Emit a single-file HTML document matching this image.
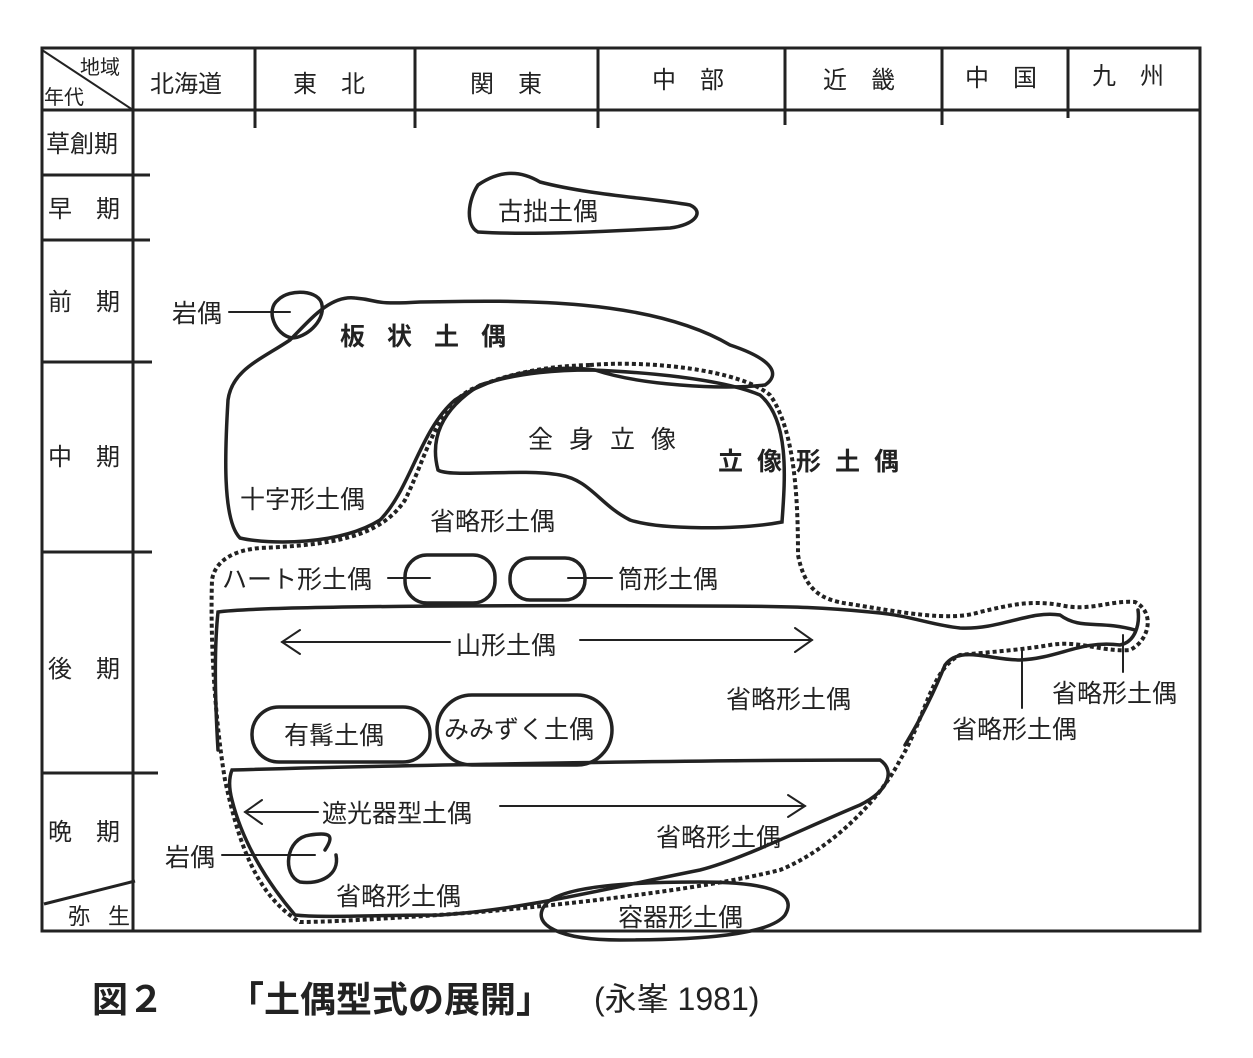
<!DOCTYPE html>
<html><head><meta charset="utf-8"><style>
body{margin:0;background:#fff;width:1253px;height:1053px;overflow:hidden}
svg text{font-family:"Liberation Sans","Noto Sans CJK JP",sans-serif;fill:#222}
</style></head><body>
<svg width="1253" height="1053" viewBox="0 0 1253 1053" xmlns="http://www.w3.org/2000/svg">
<g stroke="#222" stroke-width="3" fill="none">
<rect x="42" y="48" width="1158" height="883"/>
<line x1="42" y1="110" x2="1200" y2="110"/>
<line x1="133" y1="48" x2="133" y2="931"/>
<line x1="42" y1="50" x2="133" y2="110" stroke-width="2"/>
<line x1="255" y1="48" x2="255" y2="128"/>
<line x1="415" y1="48" x2="415" y2="128"/>
<line x1="598" y1="48" x2="598" y2="128"/>
<line x1="785" y1="48" x2="785" y2="125"/>
<line x1="942" y1="48" x2="942" y2="125"/>
<line x1="1068" y1="48" x2="1068" y2="118"/>
<line x1="42" y1="175" x2="150" y2="175"/>
<line x1="42" y1="240" x2="150" y2="240"/>
<line x1="42" y1="362" x2="152" y2="362"/>
<line x1="42" y1="552" x2="152" y2="552"/>
<line x1="42" y1="773" x2="158" y2="773"/>
<line x1="44" y1="904" x2="135" y2="881"/>
</g>
<g font-size="24">
<text x="80" y="74" font-size="20">地域</text>
<text x="44" y="104" font-size="20">年代</text>
<text x="150" y="92">北海道</text>
<text x="293" y="92">東　北</text>
<text x="470" y="92">関　東</text>
<text x="652" y="88">中　部</text>
<text x="823" y="88">近　畿</text>
<text x="965" y="86">中　国</text>
<text x="1092" y="84">九　州</text>
<text x="46" y="152">草創期</text>
<text x="48" y="217">早　期</text>
<text x="48" y="310">前　期</text>
<text x="48" y="465">中　期</text>
<text x="48" y="677">後　期</text>
<text x="48" y="840">晩　期</text>
<text x="68" y="924" font-size="22" letter-spacing="-2">弥　生</text>
</g>
<g stroke="#222" stroke-width="3.5" fill="none" stroke-linecap="round">
<path d="M478,185 C500,170 520,170 540,182 C590,195 650,198 690,205 C705,212 695,225 670,228 C600,232 520,235 478,232 C465,225 468,200 478,185Z"/>
<path d="M290,340 C310,320 330,295 355,298 C380,300 370,305 420,302 C520,300 650,298 730,345 C775,360 780,375 765,385 C720,390 640,385 595,370 C560,365 500,370 455,400 C420,430 410,490 380,520 C340,545 270,545 240,538 C222,520 225,450 228,400 C232,370 260,360 290,340"/>
<path d="M592,370 C640,372 720,378 760,395 C790,420 785,480 782,522 C740,530 660,530 630,520 C600,505 590,480 560,475 C520,468 450,478 438,470 C430,440 440,410 480,385 C520,372 560,370 592,370"/>
<path d="M278,300 C290,288 320,290 322,305 C325,322 305,338 292,338 C275,335 265,310 278,300"/>
<path d="M218,750 C215,700 214,650 218,612 C260,606 500,605 700,606 C800,606 830,608 870,612 C910,615 930,625 960,628 C1000,630 1030,610 1060,615 C1080,630 1100,620 1135,630"/>
<path d="M905,745 C920,720 935,690 945,665 C960,645 990,660 1020,660 C1060,658 1080,640 1120,645 C1135,642 1140,625 1138,610"/>
<path d="M232,770 C400,765 700,760 880,760 C895,770 890,790 860,805 C800,830 740,860 700,870 C600,890 520,910 440,915 C380,915 320,918 295,915 C265,880 242,840 232,800 C228,785 230,775 232,770Z"/>
<path d="M545,905 C560,885 640,882 700,882 C760,882 800,890 785,915 C770,935 700,940 620,940 C560,940 530,925 545,905Z"/>
<rect x="405" y="555" width="90" height="48" rx="22"/>
<rect x="510" y="558" width="75" height="42" rx="20"/>
<rect x="252" y="707" width="178" height="55" rx="27"/>
<rect x="437" y="695" width="175" height="70" rx="35"/>
<path d="M325,850 C335,835 330,832 310,835 C285,838 282,875 300,882 C320,885 340,875 336,855"/>
<line x1="229" y1="312" x2="290" y2="312" stroke-width="2"/>
<line x1="388" y1="578" x2="430" y2="578" stroke-width="2"/>
<line x1="568" y1="578" x2="612" y2="578" stroke-width="2"/>
<line x1="222" y1="855" x2="315" y2="855" stroke-width="2"/>
<line x1="1022" y1="648" x2="1022" y2="708" stroke-width="2"/>
<line x1="1123" y1="635" x2="1123" y2="672" stroke-width="2"/>
<g stroke-width="2">
<line x1="282" y1="642" x2="450" y2="642"/><polyline points="300,630 282,642 300,654"/>
<line x1="580" y1="640" x2="812" y2="640"/><polyline points="795,628 812,640 795,652"/>
<line x1="245" y1="812" x2="318" y2="812"/><polyline points="262,800 245,812 262,824"/>
<line x1="500" y1="806" x2="805" y2="806"/><polyline points="788,795 805,806 788,817"/>
</g>
</g>
<path d="M590,365 C650,360 740,370 770,395 C795,430 798,500 798,555 C805,590 820,600 850,604 C900,612 950,622 980,612 C1010,605 1030,600 1060,605 C1090,612 1110,600 1135,602 C1155,612 1150,640 1130,650 C1100,652 1080,640 1050,645 C1020,650 990,652 960,655 C930,670 925,720 900,760 C880,800 830,850 780,870 C700,890 560,905 480,912 C400,918 330,922 300,922 C255,895 238,840 225,780 C215,720 210,640 212,580 C215,560 235,550 260,548 C330,545 380,538 405,500 C425,460 435,410 470,390 C510,372 550,366 590,365Z" fill="none" stroke="#222" stroke-width="4" stroke-dasharray="4,3"/>
<g font-size="25">
<text x="498" y="220">古拙土偶</text>
<text x="172" y="322">岩偶</text>
<text x="340" y="345" font-weight="bold" letter-spacing="22">板状土偶</text>
<text x="528" y="448" letter-spacing="16">全身立像</text>
<text x="718" y="470" font-weight="bold" letter-spacing="14">立像形土偶</text>
<text x="240" y="508">十字形土偶</text>
<text x="430" y="530">省略形土偶</text>
<text x="222" y="588">ハート形土偶</text>
<text x="618" y="588">筒形土偶</text>
<text x="456" y="654">山形土偶</text>
<text x="726" y="708">省略形土偶</text>
<text x="1052" y="702">省略形土偶</text>
<text x="952" y="738">省略形土偶</text>
<text x="284" y="744">有髯土偶</text>
<text x="444" y="738">みみずく土偶</text>
<text x="322" y="822">遮光器型土偶</text>
<text x="656" y="846">省略形土偶</text>
<text x="165" y="866">岩偶</text>
<text x="336" y="905">省略形土偶</text>
<text x="618" y="926">容器形土偶</text>
</g>
<text x="92" y="1012" font-size="36" font-weight="bold">図２</text>
<text x="228" y="1012" font-size="36" font-weight="bold">「土偶型式の展開」</text>
<text x="594" y="1010" font-size="32">(永峯 1981)</text>
</svg>
</body></html>
